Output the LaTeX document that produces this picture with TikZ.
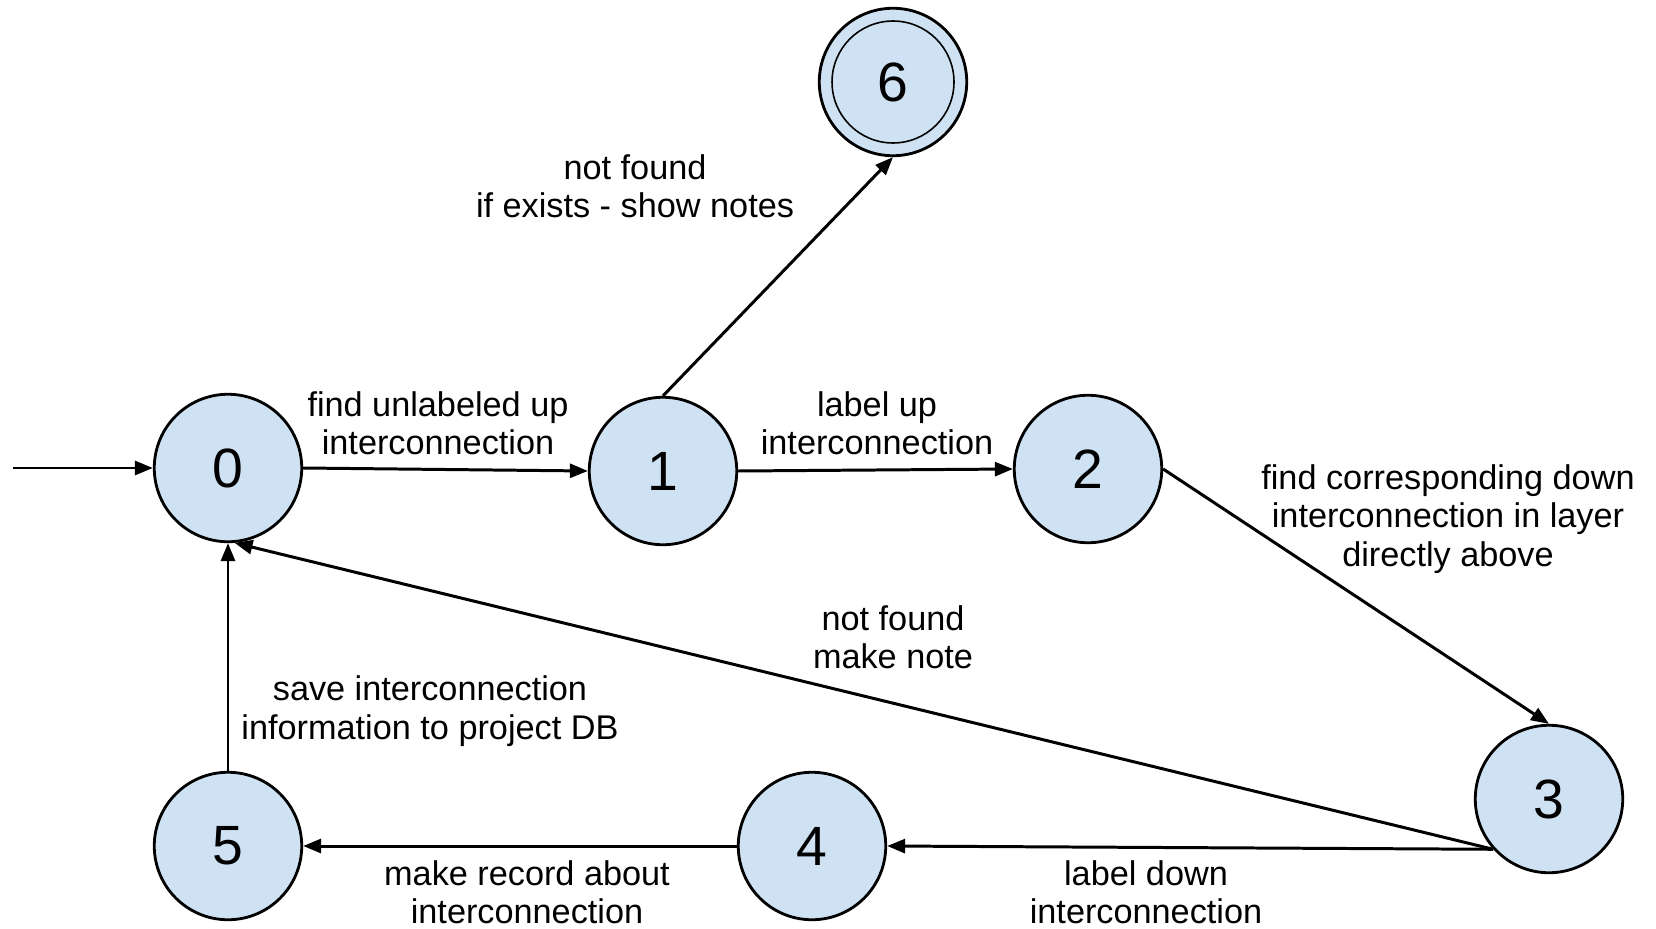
\documentclass[tikz,border=0pt]{standalone}
\usepackage{fontspec}
\setmainfont{Liberation Sans}
\usetikzlibrary{arrows.meta}
\definecolor{statefill}{HTML}{CFE2F3}
\tikzset{
  state/.style={circle, draw=black, line width=1.6pt, fill=statefill,
    minimum size=2.95cm, inner sep=0pt, font=\fontsize{31.5}{36}\selectfont},
  edge/.style={line width=1.7pt, -{Triangle[length=0.36cm,width=0.28cm]}},
  lbl/.style={align=center, font=\fontsize{19.5}{21.9}\selectfont, inner sep=0pt},
}
\begin{document}
\begin{tikzpicture}[x=0.02cm,y=-0.02cm]
\useasboundingbox (0,0) rectangle (1656,929);

% states
\node[state] (n0) at (228,468) {0};
\node[state] (n1) at (663,471) {1};
\node[state] (n2) at (1088,469) {2};
\node[state] (n3) at (1549,799) {3};
\node[state] (n4) at (812,846) {4};
\node[state] (n5) at (228,846) {5};
\node[state] (n6) at (893,82) {6};
\draw[line width=0.9pt] (n6.center) circle[radius=1.22cm];

% initial arrow
\coordinate (start) at (13,468);
\draw[edge] (start) -- (n0.west);

% transitions
\draw[edge] (n0.east) -- (n1.west);
\draw[edge] (n1.east) -- (n2.west);
\draw[edge] (n1.north) -- (n6.south);
\draw[edge] (n2.east) -- (n3.north);
\draw[edge] (n3.222) -- (n0.275);
\draw[edge] (n3.222) -- (n4.east);
\draw[edge] (n4.west) -- (n5.east);
\draw[edge] (n5.north) -- (n0.south);

% transition labels
\node[lbl] (l01) at (438,423) {find unlabeled up\\interconnection};
\node[lbl] (l12) at (877,423) {label up\\interconnection};
\node[lbl] (l16) at (635,186) {not found\\if exists - show notes};
\node[lbl] (l23) at (1448,519) {find corresponding down\\interconnection in layer\\directly above};
\node[lbl] (l30) at (893,637) {not found\\make note};
\node[lbl] (l50) at (430,711) {save interconnection\\information to project DB};
\node[lbl] (l45) at (527,892) {make record about\\interconnection};
\node[lbl] (l34) at (1146,892) {label down\\interconnection};
\end{tikzpicture}
\end{document}
